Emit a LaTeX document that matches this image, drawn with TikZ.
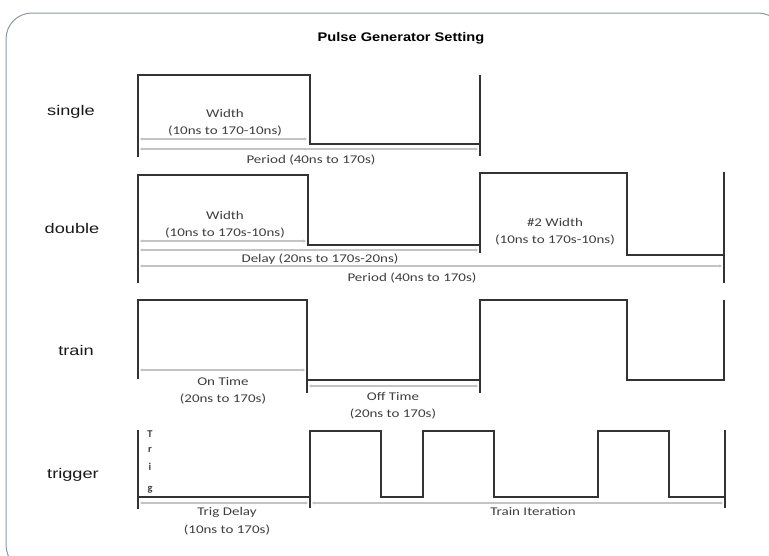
\documentclass[tikz,border=0pt]{standalone}
\usepackage{fontspec}
\usepackage{graphicx}
\setmainfont{Liberation Sans}
\newfontfamily\calib{Carlito}
\usetikzlibrary{arrows.meta}
\definecolor{wave}{HTML}{333333}
\definecolor{dim}{HTML}{C4C4C4}
\definecolor{lbl}{HTML}{3E3E3E}
\definecolor{frame}{HTML}{8C99A5}
\newcommand{\wt}[1]{\scalebox{1.27}[1]{#1}}
\newcommand{\ws}[1]{\scalebox{1.3}[1]{#1}}
\newcommand{\wtt}[1]{\scalebox{1.17}[1]{#1}}
\tikzset{
  wv/.style={draw=wave, line width=2.6pt, line join=miter},
  dimline/.style={draw=dim, line width=1.8pt, {Stealth[length=2.5pt,width=3pt]}-{Stealth[length=2.5pt,width=3pt]}},
  tl/.style={text=lbl, font=\calib\fontsize{11.8}{12}\selectfont, inner sep=0pt},
  side/.style={text=black!90, font=\fontsize{14}{15}\selectfont, inner sep=0pt},
  ttl/.style={font=\bfseries\fontsize{12.5}{14}\selectfont, inner sep=0pt},
  trg/.style={text=lbl, font=\calib\bfseries\fontsize{10.5}{11}\selectfont, inner sep=0pt}
}
\begin{document}
\begin{tikzpicture}[x=1pt,y=-1pt]
\useasboundingbox (0,0) rectangle (769,555);
\draw[frame, line width=1pt, rounded corners=26pt] (6,13) rectangle (784,571);
\node[ttl] (title) at (401,38) {\wtt{Pulse Generator Setting}};
% side labels
\node[side] (lsingle) at (71,112) {\ws{single}};
\node[side] (ldouble) at (72,228) {\ws{double}};
\node[side] (ltrain) at (76,350) {\ws{train}};
\node[side] (ltrigger) at (73,475) {\ws{trigger}};
% ---------- single
\coordinate (s1) at (140,139); \coordinate (s2) at (307,139);
\coordinate (s3) at (140,149); \coordinate (s4) at (478,149);
\draw[dimline] (s1) -- (s2);
\draw[dimline] (s3) -- (s4);
\draw[wv] (138,157) -- (138,75) -- (310,75) -- (310,144) -- (480,144);
\draw[wv] (480,75) -- (480,156);
\node[tl] (sw1) at (225,113) {\wt{Width}};
\node[tl] (sw2) at (225,131) {\wt{(10ns to 170-10ns)}};
\node[tl] (sp) at (311,160) {\wt{Period (40ns to 170s)}};
% ---------- double
\coordinate (d1) at (140,241); \coordinate (d2) at (306,241);
\coordinate (d3) at (140,250); \coordinate (d4) at (478,250);
\coordinate (d5) at (140,266); \coordinate (d6) at (722,266);
\draw[dimline] (d1) -- (d2);
\draw[dimline] (d3) -- (d4);
\draw[dimline] (d5) -- (d6);
\draw[wv] (138,283) -- (138,175) -- (308,175) -- (308,245) -- (480,245);
\draw[wv] (480,253) -- (480,173) -- (627,173) -- (627,255) -- (724,255);
\draw[wv] (724,172) -- (724,283);
\node[tl] (dw1) at (225,215) {\wt{Width}};
\node[tl] (dw2) at (225,233) {\wt{(10ns to 170s-10ns)}};
\node[tl] (dw3) at (555,222) {\wt{\#2 Width}};
\node[tl] (dw4) at (555,240) {\wt{(10ns to 170s-10ns)}};
\node[tl] (dd) at (320,259) {\wt{Delay (20ns to 170s-20ns)}};
\node[tl] (dp) at (412,278) {\wt{Period (40ns to 170s)}};
% ---------- train
\coordinate (t1) at (140,370); \coordinate (t2) at (305,370);
\coordinate (t3) at (309,386); \coordinate (t4) at (478,386);
\draw[dimline] (t1) -- (t2);
\draw[dimline] (t3) -- (t4);
\draw[wv] (138,379) -- (138,300) -- (307,300) -- (307,393);
\draw[wv] (307,380) -- (480,380);
\draw[wv] (480,393) -- (480,300) -- (627,300) -- (627,380) -- (724,380) -- (724,300);
\node[tl] (ton1) at (223,381) {\wt{On Time}};
\node[tl] (ton2) at (223,399) {\wt{(20ns to 170s)}};
\node[tl] (tof1) at (393,396) {\wt{Off Time}};
\node[tl] (tof2) at (393,414) {\wt{(20ns to 170s)}};
% ---------- trigger
\coordinate (g1) at (140,503); \coordinate (g2) at (308,503);
\coordinate (g3) at (312,503); \coordinate (g4) at (723,503);
\draw[dimline] (g1) -- (g2);
\draw[dimline] (g3) -- (g4);
\draw[wv] (138,430) -- (138,509);
\draw[wv] (138,497) -- (310,497);
\draw[wv] (310,508) -- (310,431) -- (381,431) -- (381,497) -- (423,497) -- (423,431) -- (494,431) -- (494,497) -- (598,497) -- (598,431) -- (669,431) -- (669,497) -- (725,497);
\draw[wv] (725,430) -- (725,508);
\node[trg] (gT) at (150,434) {T};
\node[trg] (gr) at (150,450) {r};
\node[trg] (gi) at (150,467) {i};
\node[trg] (gg) at (150,490) {g};
\node[tl] (gd1) at (227,512) {\wt{Trig Delay}};
\node[tl] (gd2) at (227,530) {\wt{(10ns to 170s)}};
\node[tl] (gti) at (533,511) {\wt{Train Iteration}};
\end{tikzpicture}
\end{document}
